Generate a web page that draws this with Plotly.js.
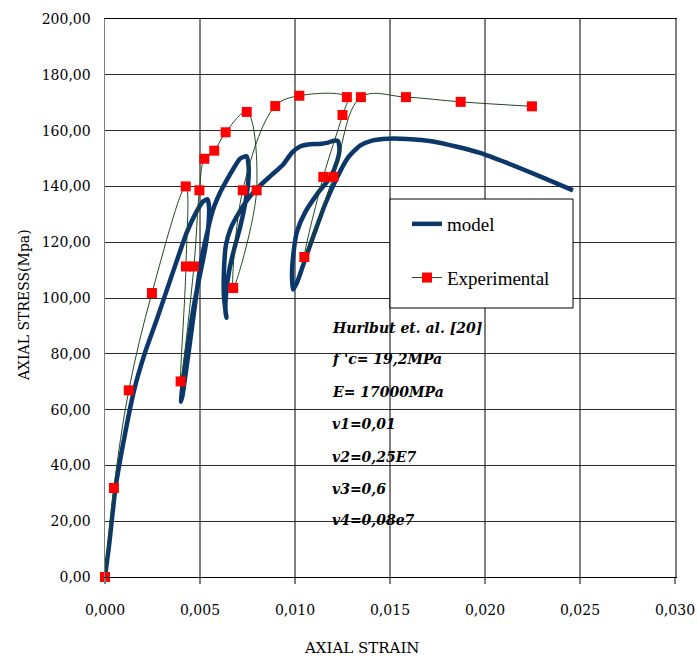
<!DOCTYPE html>
<html>
<head>
<meta charset="utf-8">
<script src="https://cdn.plot.ly/plotly-3.0.1.min.js"></script>
<style>
  html, body { margin: 0; padding: 0; background: #ffffff; }
  #chart { width: 697px; height: 660px; }
</style>
</head>
<body>
<div id="chart"></div>
<script>
// Model prediction: axial strain / axial stress (MPa), cyclic loading path
const modelStrain = [
  0, 0.000211, 0.000553, 0.000895, 0.001526, 0.002105, 0.002721, 0.003526, 0.0043, 0.004789,
  0.005158, 0.005395,
  0.005474, 0.005447, 0.005263, 0.005, 0.004737, 0.004474, 0.004211, 0.004053, 0.004,
  0.004079, 0.004237, 0.004421, 0.004632, 0.004842, 0.005053, 0.005316, 0.005684, 0.006053,
  0.006421, 0.006789, 0.007105, 0.007447,
  0.007553, 0.007526, 0.007368, 0.007105, 0.006789, 0.006526, 0.006368, 0.006342, 0.006395,
  0.006263, 0.006263, 0.006368, 0.006632, 0.007053, 0.007579, 0.008158, 0.008789, 0.009368,
  0.009842, 0.010263, 0.010789, 0.011316, 0.011737, 0.012053, 0.012263,
  0.012342, 0.012211, 0.011842, 0.011211, 0.010526, 0.010105, 0.009921, 0.009842, 0.009895,
  0.010105, 0.010526, 0.011053, 0.011579, 0.012158, 0.012789, 0.013421, 0.014053, 0.014895,
  0.015895, 0.017263, 0.018526, 0.019737, 0.021158, 0.022895, 0.024632
];
const modelStress = [
  0, 11.2, 32.0, 45.6, 66.8, 80.4, 92.2, 108.3, 123.4, 130.6,
  134.6, 135.4,
  132.7, 126.3, 117.3, 108.4, 99.4, 88.6, 76.0, 67.1, 62.8,
  65.0, 72.5, 81.5, 92.2, 103.0, 113.0, 121.6, 131.6, 137.7,
  142.4, 146.7, 149.9, 150.8,
  147.8, 140.6, 133.5, 125.2, 117.3, 109.4, 101.2, 95.1, 92.9,
  100.1, 110.2, 119.1, 125.2, 130.6, 136.0, 140.3, 144.2, 147.8,
  152.1, 154.3, 155.1, 155.2, 155.7, 156.4, 156.2,
  153.2, 148.9, 143.1, 137.7, 130.6, 123.8, 116.2, 108.4, 103.0,
  105.5, 113.7, 123.8, 133.5, 142.4, 150.3, 154.6, 156.4, 157.1,
  157.0, 156.1, 154.2, 152.0, 148.4, 143.6, 138.6
];

// Test results, in loading order (envelope with three unload/reload cycles)
const expStrain = [
  0, 0.00047, 0.00125, 0.00247, 0.00425, 0.00426, 0.00398, 0.00468, 0.00497, 0.00523,
  0.00575, 0.00635, 0.00746, 0.00798, 0.00675, 0.00725, 0.00896, 0.01023, 0.01273, 0.0125,
  0.01149, 0.01049, 0.01202, 0.01347, 0.01584, 0.01872, 0.02247
];
const expStress = [
  0, 31.9, 66.9, 101.8, 140.0, 111.3, 70.1, 111.3, 138.6, 149.9,
  152.8, 159.4, 166.7, 138.6, 103.6, 138.6, 168.8, 172.5, 172.0, 165.6,
  143.4, 114.7, 143.4, 172.0, 172.0, 170.3, 168.7
];

const xTicks = [0, 0.005, 0.010, 0.015, 0.020, 0.025, 0.030];
const yTicks = [0, 20, 40, 60, 80, 100, 120, 140, 160, 180, 200];

const noteLines = [
  'Hurlbut et. al. [20]',
  "f 'c= 19,2MPa",
  'E= 17000MPa',
  'v1=0,01',
  'v2=0,25E7',
  'v3=0,6',
  'v4=0,08e7'
];
const noteY = [0.4462, 0.3907, 0.3315, 0.2742, 0.2151, 0.1577, 0.1022];

const serif = 'DejaVu Serif, serif';

const traces = [
  {
    type: 'scatter', mode: 'lines', name: 'model', legendgroup: 'm',
    x: modelStrain, y: modelStress,
    line: { color: '#0c376a', width: 4.5, shape: 'spline', smoothing: 0.6 }
  },
  {
    type: 'scatter', mode: 'lines+markers', name: 'Experimental', legendgroup: 'e',
    x: expStrain, y: expStress, cliponaxis: false,
    line: { color: '#1f4a1f', width: 1, shape: 'spline', smoothing: 1 },
    marker: { symbol: 'square', size: 10, color: '#ff0000' }
  }
];

const annotations = noteLines.map((t, i) => ({
  xref: 'paper', yref: 'paper', x: 0.3947, y: noteY[i],
  xanchor: 'left', yanchor: 'middle', showarrow: false,
  text: t,
  font: { family: serif, size: 14, color: '#000000', style: 'italic', weight: 'bold' }
}));

// axis titles placed as free text
annotations.push({
  xref: 'paper', yref: 'paper', x: (361 - 105) / 570, y: (577 - 648) / 558,
  xanchor: 'center', yanchor: 'middle', showarrow: false,
  text: 'AXIAL STRAIN', font: { family: serif, size: 15, color: '#000000' }
});
annotations.push({
  xref: 'paper', yref: 'paper', x: (24 - 105) / 570, y: (577 - 305) / 558,
  xanchor: 'center', yanchor: 'middle', showarrow: false, textangle: -90,
  text: 'AXIAL STRESS(Mpa)', font: { family: serif, size: 14, color: '#000000' }
});

const layout = {
  width: 697, height: 660,
  margin: { l: 105, r: 22, t: 19, b: 83, pad: 0 },
  paper_bgcolor: '#ffffff', plot_bgcolor: '#ffffff',
  separators: ', ',
  showlegend: true,
  legend: {
    x: (407 - 105) / 570, y: (577 - 205) / 558, xanchor: 'left', yanchor: 'top',
    bgcolor: 'rgba(0,0,0,0)', borderwidth: 0,
    tracegroupgap: 26,
    font: { family: 'Liberation Serif, serif', size: 19, color: '#000000' }
  },
  xaxis: {
    range: [0, 0.030], tickvals: xTicks, tickformat: '.3f',
    showgrid: true, gridcolor: '#7f7f7f', gridwidth: 1.5,
    zeroline: false, showline: true, linecolor: '#000000', linewidth: 1, mirror: true,
    ticks: 'outside', ticklen: 6, tickcolor: '#7f7f7f', tickwidth: 1.5,
    ticklabelstandoff: 14,
    tickfont: { family: serif, size: 14, color: '#000000' }
  },
  yaxis: {
    range: [0, 200], tickvals: yTicks, tickformat: '.2f',
    showgrid: true, gridcolor: '#2a2a2a', gridwidth: 1,
    zeroline: false, showline: true, linecolor: '#7f7f7f', linewidth: 1.5, mirror: true,
    ticks: '', ticklabelstandoff: 10,
    tickfont: { family: serif, size: 14, color: '#000000' }
  },
  shapes: [
    {
      type: 'rect', xref: 'paper', yref: 'paper', layer: 'above',
      x0: (390 - 105) / 570, x1: (573 - 105) / 570,
      y0: (577 - 308) / 558, y1: (577 - 199) / 558,
      fillcolor: '#ffffff', line: { color: '#000000', width: 1 }
    }
  ],
  annotations: annotations
};

Plotly.newPlot('chart', traces, layout, { staticPlot: true, displayModeBar: false });
</script>
</body>
</html>
